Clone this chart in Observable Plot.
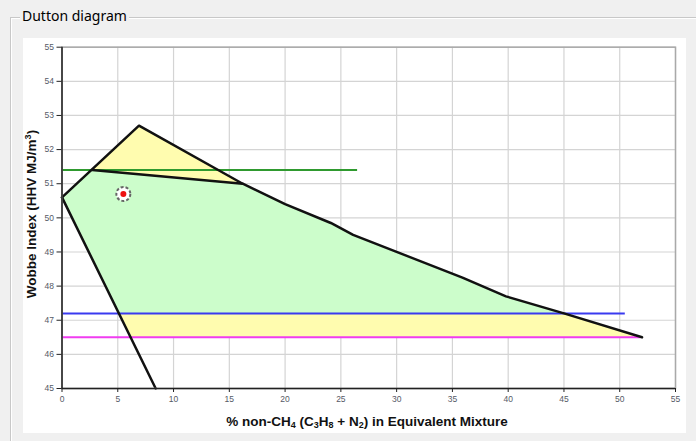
<!DOCTYPE html>
<html><head><meta charset="utf-8">
<script src="https://cdn.jsdelivr.net/npm/d3@7"></script>
<script src="https://cdn.jsdelivr.net/npm/@observablehq/plot@0.6"></script>
<style>
html,body{margin:0;padding:0;}
body{width:696px;height:441px;background:#f0f0f0;position:relative;overflow:hidden;font-family:"Liberation Sans",Arial,sans-serif;}
#box{position:absolute;left:10px;top:17px;width:720px;height:460px;border-top:1px solid #c8c8c8;border-left:1px solid #c8c8c8;box-shadow:inset 1px 1px 0 #ffffff;}
#title{position:absolute;left:20px;top:7px;padding:0 2px;background:#f0f0f0;font-family:"Noto Sans","DejaVu Sans",sans-serif;font-size:14px;color:#000;line-height:18px;}
#chart{position:absolute;left:23px;top:38px;width:663px;height:395px;background:#fff;}
#chart svg{display:block;}
.axt{position:absolute;font-weight:bold;font-size:13.5px;color:#111;white-space:nowrap;font-family:"Liberation Sans",Arial,sans-serif;}
#ylab{left:31px;top:214px;transform:translate(-50%,-50%) rotate(-90deg);}
#xlab{left:367px;top:421px;transform:translate(-50%,-50%);}
sub{font-size:9px;vertical-align:-2px;line-height:0;}
sup{font-size:9px;vertical-align:5px;line-height:0;}
</style>
</head><body>
<div id="box"></div>
<div id="title">Dutton diagram</div>
<div id="chart"></div>
<div class="axt" id="ylab">Wobbe Index (HHV MJ/m<sup>3</sup>)</div>
<div class="axt" id="xlab">% non-CH<sub>4</sub> (C<sub>3</sub>H<sub>8</sub> + N<sub>2</sub>) in Equivalent Mixture</div>
<script>
// Axis ticks
const xTicks = [0,5,10,15,20,25,30,35,40,45,50,55];
const yTicks = [45,46,47,48,49,50,51,52,53,54,55];

// Upper boundary of the Dutton envelope (thick black line)
const upperX = [0, 6.9, 16.2, 20.0, 24.1, 26.1, 30.4, 35.9, 39.8, 45.0, 52.0];
const upperY = [50.6, 52.7, 51.0, 50.4, 49.85, 49.5, 48.95, 48.25, 47.7, 47.2, 46.5];

// Inner black line (separating yellow triangle from green area)
const innerX = [2.7, 16.2];
const innerY = [51.4, 51.0];

// Lower-left black line
const lowX = [0, 8.4];
const lowY = [50.6, 45.0];

// Green region polygon
const greenX = [0, 2.7, 16.2, 20.0, 24.1, 26.1, 30.4, 35.9, 39.8, 45.0, 5.1];
const greenY = [50.6, 51.4, 51.0, 50.4, 49.85, 49.5, 48.95, 48.25, 47.7, 47.2, 47.2];

// Yellow regions
const yellowTopX = [2.7, 6.9, 16.2];
const yellowTopY = [51.4, 52.7, 51.0];
const yellowBandX = [5.1, 45.0, 52.0, 6.2];
const yellowBandY = [47.2, 47.2, 46.5, 46.5];

// Horizontal reference lines
const refNames = ["green", "blue", "magenta"];
const refLevel = [51.4, 47.2, 46.5];
const refEnd = [26.5, 50.5, 51.9];
const refColor = ["#2f9a2f", "#3a3af0", "#f03cf0"];

// Current gas point
const pointX = [5.5];
const pointY = [50.7];

const pts = (xs, ys) => xs.map((x, i) => ({x, y: ys[i]}));
const refs = refNames.map((n, i) => ({name: n, y: refLevel[i], x2: refEnd[i], c: refColor[i]}));

const chart = Plot.plot({
  width: 663,
  height: 395,
  marginLeft: 38.5,
  marginTop: 8.7,
  marginRight: 11,
  marginBottom: 45,
  style: {background: "#ffffff", fontFamily: "Liberation Sans, Arial, sans-serif"},
  x: {domain: [0, 55]},
  y: {domain: [45, 55]},
  marks: [
    Plot.gridX(xTicks, {stroke: "#d4d4d4", strokeOpacity: 1, strokeWidth: 1.2}),
    Plot.gridY(yTicks, {stroke: "#d4d4d4", strokeOpacity: 1, strokeWidth: 1.2}),
    Plot.line(pts(greenX, greenY), {x: "x", y: "y", fill: "#ccfdcb", stroke: "none", curve: "linear-closed"}),
    Plot.line(pts(yellowTopX, yellowTopY), {x: "x", y: "y", fill: "#fffcaf", stroke: "none", curve: "linear-closed"}),
    Plot.line(pts(yellowBandX, yellowBandY), {x: "x", y: "y", fill: "#fffcaf", stroke: "none", curve: "linear-closed"}),
    Plot.ruleY(refs, {y: "y", x1: 0, x2: "x2", stroke: "c", strokeWidth: 2}),
    Plot.line(pts(upperX, upperY), {x: "x", y: "y", stroke: "#111", strokeWidth: 2.5, strokeLinejoin: "round"}),
    Plot.line(pts(innerX, innerY), {x: "x", y: "y", stroke: "#111", strokeWidth: 2.5}),
    Plot.line(pts(lowX, lowY), {x: "x", y: "y", stroke: "#111", strokeWidth: 2.5}),
    Plot.frame({stroke: "#a9a9a9", strokeWidth: 1.5}),
    Plot.ruleX([0], {stroke: "#222", strokeWidth: 1.5}),
    Plot.ruleY([45], {stroke: "#222", strokeWidth: 1.5}),
    Plot.axisX(xTicks, {tickSize: 4, tickPadding: 3, fontSize: 8.5, color: "#555a66", stroke: "#222", label: null}),
    Plot.axisY(yTicks, {tickSize: 5, tickPadding: 3, fontSize: 8.5, color: "#555a66", stroke: "#222", label: null}),
    Plot.dot(pts(pointX, pointY), {x: "x", y: "y", r: 7, stroke: "#666", strokeWidth: 2, strokeDasharray: "3,2", fill: "#fff"}),
    Plot.dot(pts(pointX, pointY), {x: "x", y: "y", r: 3, fill: "#ee1111", stroke: "none"})
  ]
});
document.getElementById("chart").appendChild(chart);
</script>
</body></html>
